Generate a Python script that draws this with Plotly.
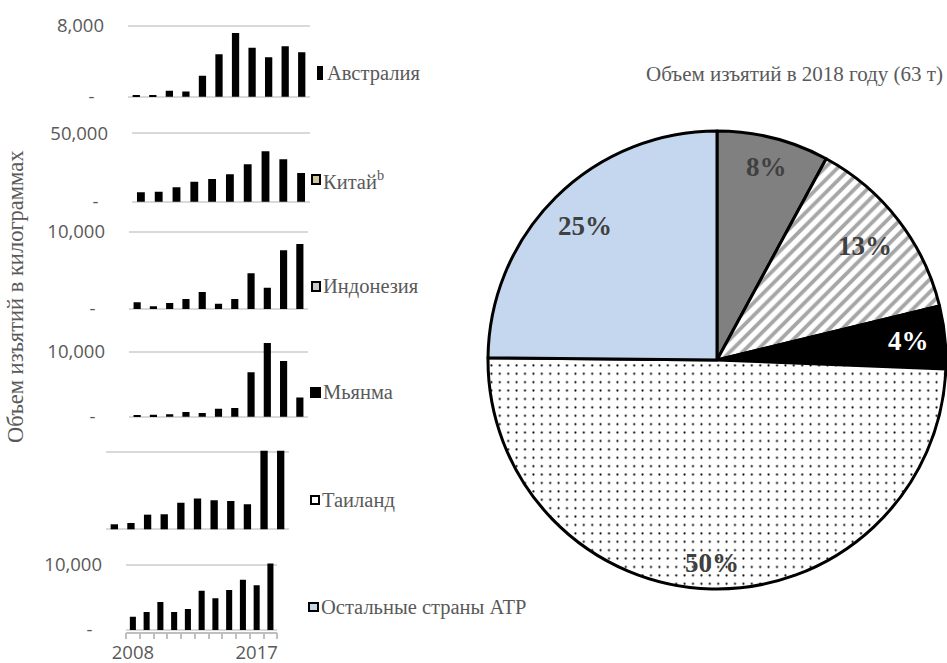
import math
import plotly.graph_objects as go

W, H = 947, 663

# ---------------- data ----------------
years_all = [2008, 2009, 2010, 2011, 2012, 2013, 2014, 2015, 2016, 2017, 2018]
years_china = [2008, 2009, 2010, 2011, 2012, 2013, 2014, 2015, 2016, 2017]

australia = [150, 200, 680, 600, 2370, 4780, 7180, 5520, 4440, 5680, 5000]
china = [6870, 7300, 10500, 14600, 16600, 20000, 27300, 36800, 31000, 21000]
indonesia = [870, 350, 780, 1290, 2200, 690, 1290, 4620, 2760, 7590, 8410]
myanmar = [150, 300, 360, 720, 570, 1230, 1330, 6820, 11340, 8570, 2970]
thailand = [650, 820, 1900, 1950, 3460, 4000, 3770, 3680, 3250, 17000, 31500]
others = [2050, 2770, 4310, 2770, 3230, 6050, 4870, 6150, 7740, 6870, 15800]

x_tick_vals = [2008, 2017]
x_tick_text = ["2008", "2017"]

legend_names = ["Австралия", "Китай<sup>b</sup>", "Индонезия", "Мьянма",
                "Таиланд", "Остальные страны АТР"]

pie_labels = ["Австралия", "Индонезия", "Мьянма", "Таиланд", "Остальные страны АТР"]
pie_values = [5.0, 8.4, 2.8, 31.3, 15.7]   # тонн, 2018
pie_title = "Объем изъятий в 2018 году (63 т)"
y_title = "Объем изъятий в килограммах"

# ---------------- styling ----------------
GRAY_TXT = "#595959"
GRID = "#D9D9D9"
TICK_FONT = dict(family="Open Sans", size=18.5, color=GRAY_TXT)
SERIF = "Liberation Serif"

# panel geometry in pixels: x0,x1 ; y of top gridline, y of baseline ; ymax
panels = [
    dict(x=years_all, y=australia, px=(128, 310), py=(25.7, 96.7), ymax=8000,
         tick=8000, ttext="8,000", labels=True, xr=(2007.5, 2018.5)),
    dict(x=years_china, y=china, px=(132, 310), py=(133.3, 201.7), ymax=50000,
         tick=50000, ttext="50,000", labels=True, xr=(2007.5, 2017.5)),
    dict(x=years_all, y=indonesia, px=(129, 308), py=(231.7, 309), ymax=10000,
         tick=10000, ttext="10,000", labels=True, xr=(2007.5, 2018.5)),
    dict(x=years_all, y=myanmar, px=(129, 308), py=(338.7, 416.7), ymax=12000,
         tick=10000, ttext="10,000", labels=True, xr=(2007.5, 2018.5)),
    dict(x=years_all, y=thailand, px=(106, 289), py=(452.3, 529.3), ymax=10000,
         tick=10000, ttext="10,000", labels=False, xr=(2007.5, 2018.5)),
    dict(x=years_all, y=others, px=(126, 277.3), py=(565, 630), ymax=10000,
         tick=10000, ttext="10,000", labels=True, xr=(2007.5, 2018.5)),
]

fig = go.Figure()
layout = dict(
    width=W, height=H, margin=dict(l=0, r=0, t=0, b=0, autoexpand=False),
    paper_bgcolor="white", plot_bgcolor="rgba(0,0,0,0)",
    showlegend=False, bargap=0.56,
)

PADPX = 1.6  # small range padding (px) so that edge gridlines are drawn
for i, p in enumerate(panels, start=1):
    xa = "x" if i == 1 else f"x{i}"
    ya = "y" if i == 1 else f"y{i}"
    fig.add_trace(go.Bar(x=p["x"], y=p["y"], marker=dict(color="black", line=dict(width=0)),
                         xaxis=xa, yaxis=ya, hoverinfo="x+y"))
    xkey = "xaxis" if i == 1 else f"xaxis{i}"
    ykey = "yaxis" if i == 1 else f"yaxis{i}"
    top, base = p["py"]
    span = base - top
    pad = PADPX / span
    ydom = [1 - (base + PADPX) / H, 1 - (top - PADPX) / H]
    yr = [-p["ymax"] * pad, p["ymax"] * (1 + pad)]
    xdom = [p["px"][0] / W, p["px"][1] / W]
    xaxis = dict(domain=xdom, range=list(p["xr"]), anchor=ya, showgrid=False,
                 zeroline=False, showticklabels=False, showline=False, ticks="",
                 fixedrange=True, automargin=False)
    if i == len(panels):
        xaxis.update(showticklabels=True, tickvals=x_tick_vals, ticktext=x_tick_text,
                     tickfont=TICK_FONT, showline=True, linecolor="#BFBFBF", linewidth=1.5,
                     ticklabelstandoff=3,
                     minor=dict(ticks="outside", ticklen=6, tickcolor="#BFBFBF",
                                tickwidth=1.5, tick0=2007.5, dtick=1, showgrid=False))
    layout[xkey] = xaxis
    layout[ykey] = dict(domain=ydom, range=yr, anchor=xa,
                        tickvals=[0, p["tick"]],
                        ticktext=["-\u00a0\u00a0", p["ttext"]],
                        showticklabels=p["labels"], tickfont=TICK_FONT,
                        showgrid=True, gridcolor=GRID, gridwidth=1.5,
                        zeroline=False, showline=False, ticks="",
                        ticklabelstandoff=23, fixedrange=True, automargin=False)

# ---------------- pie ----------------
pie_px_x = (488, 946)
pie_px_y = (131, 589)
pie_colors = ["#808080", "white", "black", "white", "#C5D7EF"]
fig.add_trace(go.Pie(
    labels=pie_labels, values=pie_values, sort=False, direction="clockwise",
    rotation=0, textinfo="none", hoverinfo="label+percent",
    domain=dict(x=[pie_px_x[0] / W, pie_px_x[1] / W],
                y=[1 - pie_px_y[1] / H, 1 - pie_px_y[0] / H]),
    marker=dict(colors=pie_colors, line=dict(color="black", width=3),
                pattern=dict(shape=["", "/", "", ".", ""],
                             fgcolor=["#808080", "#A6A6A6", "black", "black", "#C5D7EF"],
                             bgcolor=pie_colors,
                             size=[8, 9, 8, 8.4, 8],
                             solidity=[0.2, 0.42, 0.2, 0.05, 0.2])),
    showlegend=False,
))

annotations = []
shapes = []

# pie percentage labels (inside end)
cx = (pie_px_x[0] + pie_px_x[1]) / 2
cy = (pie_px_y[0] + pie_px_y[1]) / 2
R = (pie_px_x[1] - pie_px_x[0]) / 2
total = sum(pie_values)
fs = 27
cum = 0.0
label_colors = ["#404040", "#404040", "white", "#404040", "#404040"]
for v, col in zip(pie_values, label_colors):
    frac = (cum + v / 2) / total
    cum += v
    th = 2 * math.pi * frac
    ux, uy = math.sin(th), math.cos(th)
    txt = f"{round(100 * v / total)}%"
    hw = (0.5 * (len(txt) - 1) + 1.0) * fs / 2
    hh = 0.37 * fs
    ext = abs(ux) * hw + abs(uy) * hh
    r = R - ext - 15
    px_, py_ = cx + r * ux, cy - r * uy
    annotations.append(dict(x=px_ / W, y=1 - py_ / H, xref="paper", yref="paper",
                            text=f"<b>{txt}</b>", showarrow=False,
                            xanchor="center", yanchor="middle",
                            font=dict(family=SERIF, size=fs, color=col)))

# pie title
annotations.append(dict(x=945 / W, y=1 - 74 / H, xref="paper", yref="paper",
                        text=pie_title, showarrow=False, xanchor="right", yanchor="middle",
                        font=dict(family=SERIF, size=21, color=GRAY_TXT)))

# y-axis title
annotations.append(dict(x=15 / W, y=1 - 297 / H, xref="paper", yref="paper",
                        text=y_title, showarrow=False, textangle=-90,
                        xanchor="center", yanchor="middle",
                        font=dict(family=SERIF, size=22.5, color=GRAY_TXT)))

# per-panel legend entries
legend_pos = [  # marker x0,x1,y0,y1, text x, text y
    (318, 322, 67, 79, 325, 73),
    (312, 320, 175, 184, 321, 180),
    (312, 320, 282, 291, 321, 286),
    (311, 320, 388, 397, 321, 392),
    (311, 319, 496, 504, 320, 500),
    (309, 318, 603, 611, 319, 607),
]
legend_fill = ["black", "#CFC6A0", "#C8C8C8", "black", "white", "#C5D7EF"]
for name, (x0, x1, y0, y1, tx, ty), fill in zip(legend_names, legend_pos, legend_fill):
    shapes.append(dict(type="rect", xref="paper", yref="paper",
                       x0=x0 / W, x1=x1 / W, y0=1 - y1 / H, y1=1 - y0 / H,
                       fillcolor=fill, line=dict(color="black", width=2)))
    annotations.append(dict(x=tx / W, y=1 - ty / H, xref="paper", yref="paper",
                            text=name, showarrow=False, xanchor="left", yanchor="middle",
                            font=dict(family=SERIF, size=20.5, color=GRAY_TXT)))

layout["annotations"] = annotations
layout["shapes"] = shapes
fig.update_layout(**layout)
fig.write_html("out.html", config={"displayModeBar": False},
               post_script="document.body.style.margin='0';document.body.style.overflow='hidden';")
